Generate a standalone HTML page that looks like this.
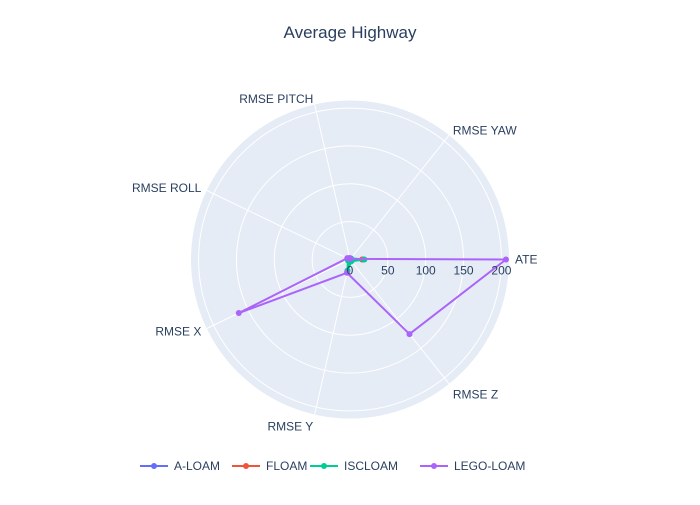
<!DOCTYPE html>
<html><head><meta charset="utf-8"><style>
body{margin:0;background:#fff}
text{font-family:"Liberation Sans",sans-serif;fill:#2a3f5f}
</style></head><body>
<svg id="chart" width="700" height="500" xmlns="http://www.w3.org/2000/svg">
<text x="350" y="38" text-anchor="middle" font-size="17">Average Highway</text>
<g id="grid"></g><g id="marks"></g><g id="legend"></g>
</svg>
<script>
const categories=["ATE","RMSE YAW","RMSE PITCH","RMSE ROLL","RMSE X","RMSE Y","RMSE Z"];
const seriesNames=["A-LOAM","FLOAM","ISCLOAM","LEGO-LOAM"];
const aloam=[17,1,1,1,2,3,2];
const floam=[16,1,1,1,2,3,2];
const iscloam=[19,2,1,1,3,15,3];
const legoloam=[206,1,2,4,163,18,126];
const radialTicks=[0,50,100,150,200];
const colors=["#636efa","#EF553B","#00cc96","#ab63fa"];
const data=[aloam,floam,iscloam,legoloam];
const cx=350,cy=259.5,R=159,rmax=210;
const NS="http://www.w3.org/2000/svg";
const rs=v=>v/rmax*R;
const ang=i=>i*2*Math.PI/categories.length;
const px=(i,v)=>cx+rs(v)*Math.cos(ang(i));
const py=(i,v)=>cy-rs(v)*Math.sin(ang(i));
function mk(t,a,p){const e=document.createElementNS(NS,t);for(const k in a)e.setAttribute(k,a[k]);p.appendChild(e);return e;}
const grid=document.getElementById('grid');
const bg=mk('circle',{cx:cx,cy:cy,r:R,fill:'#e5ecf6'},grid);


radialTicks.slice(1).forEach(t=>{
 const c=mk('circle',{cx:cx,cy:cy,r:rs(t),fill:'none',stroke:'#fff','stroke-width':1},grid);
 
 
});
categories.forEach((c,i)=>{
 const l=mk('line',{x1:cx,y1:cy,x2:px(i,rmax),y2:py(i,rmax),stroke:'#fff','stroke-width':1},grid);
 
 
 const co=Math.cos(ang(i)), si=Math.sin(ang(i));
 const anchor=co>0.1?'start':(co<-0.1?'end':'middle');
 const lx=cx+(R+6)*co, ly=cy-(R+6)*si+(si<-0.5?6:0);
 const t=mk('text',{x:lx,y:ly,'text-anchor':anchor,'font-size':12,dy:'0.35em'},grid);
 t.textContent=c;
 
 
});
const marks=document.getElementById('marks');
data.forEach((d,s)=>{
 const pts=d.map((v,i)=>px(i,v)+','+py(i,v));
 pts.push(pts[0]);
 const pl=mk('polyline',{points:pts.join(' '),fill:'none',stroke:colors[s],'stroke-width':2},marks);
 
 
 d.forEach((v,i)=>{
  const c=mk('circle',{cx:px(i,v),cy:py(i,v),r:3,fill:colors[s]},marks);
  
  
 });
});
radialTicks.forEach(t=>{
 const e=mk('text',{x:cx+rs(t),y:cy+15,'text-anchor':'middle','font-size':12},marks);
 e.textContent=t;
 
 
});
const leg=document.getElementById('legend');
const lx=[140,232,310,420];
seriesNames.forEach((n,s)=>{
 const g=mk('g',{},leg);
 
 
 mk('line',{x1:lx[s],y1:466,x2:lx[s]+28,y2:466,stroke:colors[s],'stroke-width':2},g);
 mk('circle',{cx:lx[s]+14,cy:466,r:3,fill:colors[s]},g);
 const t=mk('text',{x:lx[s]+34,y:470,'font-size':12},g);
 t.textContent=n;
});
</script>
</body></html>
